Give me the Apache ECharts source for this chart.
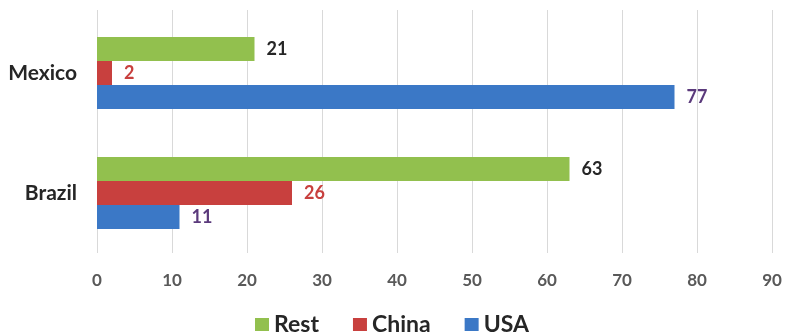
<!DOCTYPE html>
<html>
<head>
<meta charset="utf-8">
<script src="https://cdn.jsdelivr.net/npm/echarts@6/dist/echarts.min.js"></script>
<style>
html,body{margin:0;padding:0;background:#fff;}
#chart{width:787px;height:336px;}
</style>
</head>
<body>
<div id="chart"></div>
<script>
var categories = ['Brazil', 'Mexico'];
var usaValues = [11, 77];
var chinaValues = [26, 2];
var restValues = [63, 21];
var xTicks = [0, 10, 20, 30, 40, 50, 60, 70, 80, 90];
var legendOrder = ['Rest', 'China', 'USA'];

var FONT = 'Lato';
var chart = echarts.init(document.getElementById('chart'), null, {renderer: 'canvas'});

function labelCfg(color) {
  return {
    show: true, position: 'right', distance: 12,
    fontFamily: FONT, fontWeight: 'bold', fontSize: 18, color: color
  };
}

var option = {
  animation: false,
  backgroundColor: '#ffffff',
  legend: {
    data: legendOrder,
    top: 313,
    left: 255,
    padding: 0,
    itemWidth: 14, itemHeight: 13, itemGap: 34,
    icon: 'rect',
    textStyle: {fontFamily: FONT, fontWeight: 'bold', fontSize: 23, color: '#262626'}
  },
  grid: [
    {left: 97, right: 15, top: 13, bottom: 83},
    {left: 97, right: 15, top: 10, bottom: 83}
  ],
  xAxis: [
    {
      gridIndex: 0, type: 'value', min: xTicks[0], max: xTicks[xTicks.length - 1], interval: 10,
      axisLine: {show: false}, axisTick: {show: false}, splitLine: {show: false},
      axisLabel: {show: false}
    },
    {
      gridIndex: 1, type: 'value', min: xTicks[0], max: xTicks[xTicks.length - 1], interval: 10,
      axisLine: {show: false}, axisTick: {show: false},
      splitLine: {show: true, lineStyle: {color: '#d9d9d9', width: 1}},
      axisLabel: {margin: 19, fontFamily: FONT, fontWeight: 'bold', fontSize: 17, color: '#595959'}
    }
  ],
  yAxis: [
    {
      gridIndex: 0, type: 'category', data: categories,
      axisLine: {show: false}, axisTick: {show: false},
      axisLabel: {margin: 20, fontFamily: FONT, fontWeight: 'bold', fontSize: 21, color: '#262626'}
    },
    {
      gridIndex: 1, type: 'value', min: 0, max: 1,
      axisLine: {show: false}, axisTick: {show: false}, splitLine: {show: false}, axisLabel: {show: false}
    }
  ],
  series: [
    {
      name: 'Rest', type: 'bar', xAxisIndex: 0, yAxisIndex: 0, data: restValues,
      barWidth: 24, barGap: '0%',
      itemStyle: {color: '#92c04e'},
      label: labelCfg('#262626')
    },
    {
      name: 'China', type: 'bar', xAxisIndex: 0, yAxisIndex: 0, data: chinaValues,
      barWidth: 24, barGap: '0%',
      itemStyle: {color: '#c8403e'},
      label: labelCfg('#c8403e')
    },
    {
      name: 'USA', type: 'bar', xAxisIndex: 0, yAxisIndex: 0, data: usaValues,
      barWidth: 24, barGap: '0%',
      itemStyle: {color: '#3b78c6'},
      label: labelCfg('#5b3a7c')
    }
  ]
};
chart.setOption(option);
</script>
</body>
</html>
